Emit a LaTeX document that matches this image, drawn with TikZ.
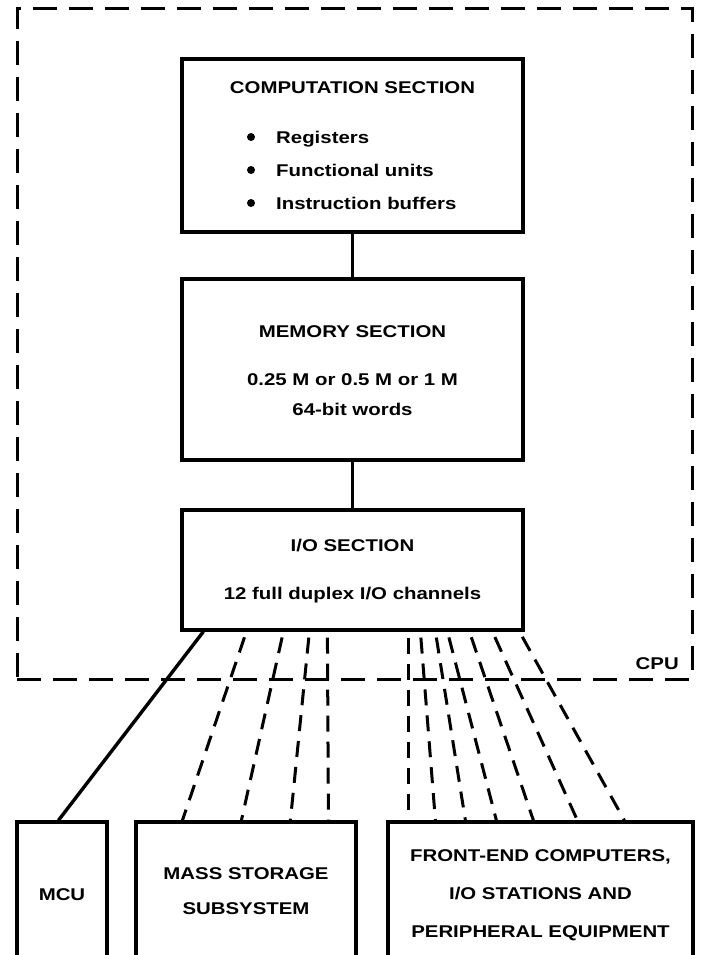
\documentclass[tikz,border=0pt]{standalone}
\usepackage{fontspec}
\setmainfont{Liberation Sans}[FakeStretch=1.2]
\usetikzlibrary{calc}
\begin{document}
\begin{tikzpicture}[x=1pt,y=-1pt,
  box/.style={draw, line width=3.2pt, inner sep=0pt},
  lbl/.style={font=\bfseries\fontsize{17}{20}\selectfont, inner sep=0pt},
  conn/.style={line width=3.4pt},
  dconn/.style={line width=3pt, dash pattern=on 16pt off 10pt, dash phase=-6pt},
  cpubox/.style={draw, line width=3pt, dash pattern=on 24pt off 12pt, inner sep=0pt},
  bul/.style={circle, fill, inner sep=0pt, minimum size=8pt}]
\fill[white] (0,0) rectangle (702,955);
\clip (0,0) rectangle (702,955);
% CPU enclosure
\node[cpubox, minimum width=675pt, minimum height=670pt] (cpu) at (354.5,344) {};
\node[lbl, anchor=base east] (cpulbl) at (679,669) {CPU};
% sections
\node[box, minimum width=341pt, minimum height=173pt] (comp) at (352.5,145.5) {};
\node[box, minimum width=341pt, minimum height=181pt] (mem) at (352.5,369.5) {};
\node[box, minimum width=341pt, minimum height=120pt] (io) at (352.5,570) {};
% bottom units
\node[box, minimum width=90pt, minimum height=153pt] (mcu) at (62,898.5) {};
\node[box, minimum width=220pt, minimum height=153pt] (mass) at (246,898.5) {};
\node[box, minimum width=305pt, minimum height=153pt] (fe) at (540.5,898.5) {};
% texts in computation section
\node[lbl, anchor=base] (tcomp) at (352.5,94) {COMPUTATION SECTION};
\node[bul] (b1) at (251,137) {};
\node[bul] (b2) at (251,170) {};
\node[bul] (b3) at (251,203) {};
\node[lbl, anchor=base west] (r1) at (276,143) {Registers};
\node[lbl, anchor=base west] (r2) at (276,176) {Functional units};
\node[lbl, anchor=base west] (r3) at (276,209) {Instruction buffers};
% memory section
\node[lbl, anchor=base] (tmem) at (352.5,337) {MEMORY SECTION};
\node[lbl, anchor=base] (tmem2) at (352.5,385) {0.25 M or 0.5 M or 1 M};
\node[lbl, anchor=base] (tmem3) at (352.5,415) {64-bit words};
% io section
\node[lbl, anchor=base] (tio) at (352.5,551) {I/O SECTION};
\node[lbl, anchor=base] (tio2) at (352.5,599) {12 full duplex I/O channels};
% bottom texts
\node[lbl, anchor=base] (tmcu) at (62,900) {MCU};
\node[lbl, anchor=base] (tmass1) at (246,879) {MASS STORAGE};
\node[lbl, anchor=base] (tmass2) at (246,914) {SUBSYSTEM};
\node[lbl, anchor=base] (tfe1) at (540.5,861) {FRONT-END COMPUTERS,};
\node[lbl, anchor=base] (tfe2) at (540.5,899) {I/O STATIONS AND};
\node[lbl, anchor=base] (tfe3) at (540.5,937) {PERIPHERAL EQUIPMENT};
% connectors
\draw[conn] (comp.south) -- (mem.north);
\draw[conn] (mem.south) -- (io.north);
\draw[conn] ($(io.south west)+(23,0)$) -- ($(mcu.north west)+(43,0)$);
\foreach \t/\b in {66/48, 103/107, 129/156, 147/194}
  \draw[dconn] ($(io.south west)+(\t,0)$) -- ($(mass.north west)+(\b,0)$);
\foreach \t/\b in {228/22, 240/49, 255/79, 267/110, 289/147, 312/191, 339/238}
  \draw[dconn] ($(io.south west)+(\t,0)$) -- ($(fe.north west)+(\b,0)$);
\end{tikzpicture}
\end{document}
